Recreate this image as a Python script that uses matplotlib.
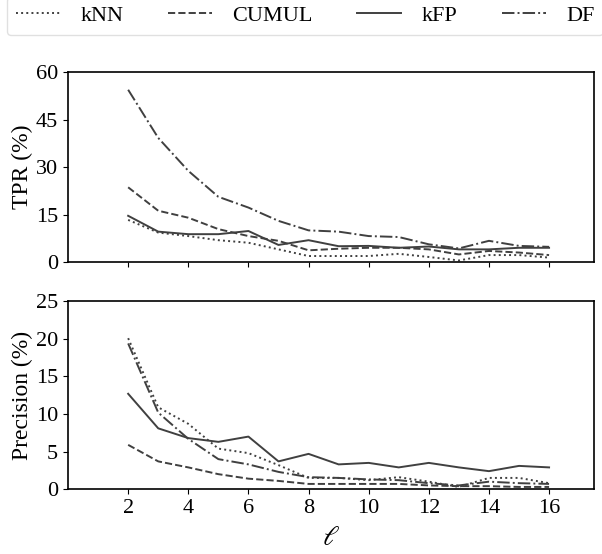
import matplotlib
matplotlib.use('Agg')
import matplotlib.pyplot as plt

plt.rcParams['font.family'] = ['Liberation Serif', 'DejaVu Serif']
plt.rcParams['mathtext.fontset'] = 'stix'

ell = [2, 3, 4, 5, 6, 7, 8, 9, 10, 11, 12, 13, 14, 15, 16]

tpr_knn = [13.3, 9.3, 8.2, 6.9, 6.1, 4.0, 1.9, 1.9, 1.9, 2.6, 1.6, 0.5, 2.2, 2.2, 1.4]
tpr_cumul = [23.6, 16.2, 14.0, 10.4, 8.2, 6.7, 3.7, 4.2, 4.5, 4.5, 4.0, 2.4, 3.5, 3.0, 2.2]
tpr_kfp = [14.6, 9.6, 8.8, 8.8, 9.8, 5.4, 6.9, 5.0, 5.1, 4.5, 4.9, 4.0, 4.0, 4.5, 4.5]
tpr_df = [54.4, 39.2, 28.8, 20.6, 17.2, 13.0, 10.0, 9.6, 8.2, 7.9, 5.6, 4.3, 6.7, 5.1, 4.8]

prec_knn = [20.1, 10.9, 8.7, 5.4, 4.8, 3.2, 1.5, 1.5, 1.2, 1.6, 1.0, 0.3, 1.5, 1.5, 0.8]
prec_cumul = [5.9, 3.7, 2.9, 2.0, 1.4, 1.1, 0.7, 0.7, 0.7, 0.7, 0.5, 0.4, 0.4, 0.3, 0.3]
prec_kfp = [12.7, 8.1, 6.8, 6.3, 7.0, 3.7, 4.7, 3.3, 3.5, 2.9, 3.5, 2.9, 2.4, 3.1, 2.9]
prec_df = [19.4, 10.2, 6.7, 4.0, 3.3, 2.3, 1.6, 1.5, 1.3, 1.2, 0.8, 0.5, 1.0, 0.8, 0.7]

names = ['kNN', 'CUMUL', 'kFP', 'DF']
styles = [':', '--', '-', '-.']
col = '0.25'

fig = plt.figure(figsize=(6.02, 5.54), dpi=100)
ax1 = fig.add_axes([0.113, 0.527, 0.874, 0.343])
ax2 = fig.add_axes([0.113, 0.117, 0.874, 0.339])

for s, n, y in zip(styles, names, [tpr_knn, tpr_cumul, tpr_kfp, tpr_df]):
    ax1.plot(ell, y, linestyle=s, color=col, lw=1.4, label=n)
for s, n, y in zip(styles, names, [prec_knn, prec_cumul, prec_kfp, prec_df]):
    ax2.plot(ell, y, linestyle=s, color=col, lw=1.4, label=n)

ax1.set_ylim(0, 60)
ax1.set_yticks([0, 15, 30, 45, 60])
ax2.set_ylim(0, 25)
ax2.set_yticks([0, 5, 10, 15, 20, 25])
for ax in (ax1, ax2):
    ax.set_xlim(0, 17.5)
    ax.set_xticks([2, 4, 6, 8, 10, 12, 14, 16])
    ax.tick_params(labelsize=16)
    for sp in ax.spines.values():
        sp.set_linewidth(1.2)
ax1.set_xticklabels([])
ax1.set_ylabel('TPR (%)', fontsize=17, labelpad=2)
ax2.set_ylabel('Precision (%)', fontsize=17, labelpad=2)
ax2.set_xlabel(r'$\ell$', fontsize=20, labelpad=6)

h, l = ax1.get_legend_handles_labels()
fig.legend(h, l, loc='lower left', bbox_to_anchor=(7 / 602, 1 - 35 / 554), ncol=4,
           fontsize=16, handlelength=2.0, columnspacing=2.0, handletextpad=0.9,
           frameon=True, fancybox=True, edgecolor='0.85', borderpad=0.4,
           borderaxespad=0)

fig.savefig('out.png', dpi=100)
